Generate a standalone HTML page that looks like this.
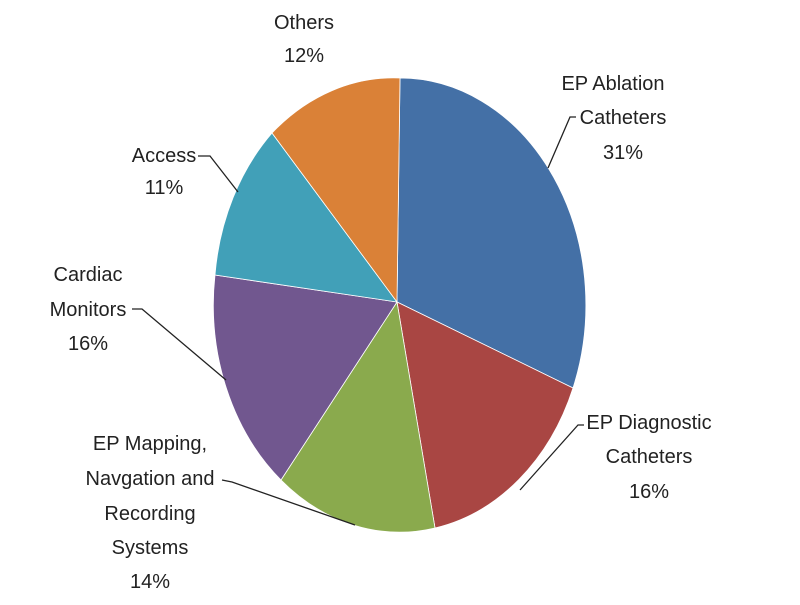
<!DOCTYPE html>
<html><head><meta charset="utf-8"><style>
body{margin:0;background:#fff;width:800px;height:600px;overflow:hidden}
text{font-family:"Liberation Sans",sans-serif;font-size:20px;fill:#222;text-anchor:middle}
</style></head><body>
<svg width="800" height="600" viewBox="0 0 800 600">
<g stroke="#fff" stroke-width="0.8">
<path d="M397,302 L400,78 A186,227 0 0 1 573,388 Z" fill="#4470A6"/>
<path d="M397,302 L573,388 A186,227 0 0 1 435,528 Z" fill="#A94643"/>
<path d="M397,302 L435,528 A186,227 0 0 1 281,480 Z" fill="#8AAA4D"/>
<path d="M397,302 L281,480 A186,227 0 0 1 215,275 Z" fill="#71578F"/>
<path d="M397,302 L215,275 A186,227 0 0 1 272,133 Z" fill="#41A0B8"/>
<path d="M397,302 L272,133 A186,227 0 0 1 400,78 Z" fill="#DA8137"/>
</g>
<g stroke="#222" stroke-width="1.3" fill="none">
<polyline points="576,117 570,117 548,168"/>
<polyline points="584,425 578,425 520,490"/>
<polyline points="222,480 232,482 355,525"/>
<polyline points="132,309 142,309 226,380"/>
<polyline points="198,156 210,156 238,192"/>
</g>
<text x="613" y="90">EP Ablation</text>
<text x="623" y="124">Catheters</text>
<text x="623" y="159">31%</text>
<text x="304" y="29">Others</text>
<text x="304" y="62">12%</text>
<text x="164" y="162">Access</text>
<text x="164" y="194">11%</text>
<text x="88" y="281">Cardiac</text>
<text x="88" y="316">Monitors</text>
<text x="88" y="350">16%</text>
<text x="649" y="429">EP Diagnostic</text>
<text x="649" y="463">Catheters</text>
<text x="649" y="498">16%</text>
<text x="150" y="450">EP Mapping,</text>
<text x="150" y="485">Navgation and</text>
<text x="150" y="520">Recording</text>
<text x="150" y="554">Systems</text>
<text x="150" y="588">14%</text>
</svg>
</body></html>
